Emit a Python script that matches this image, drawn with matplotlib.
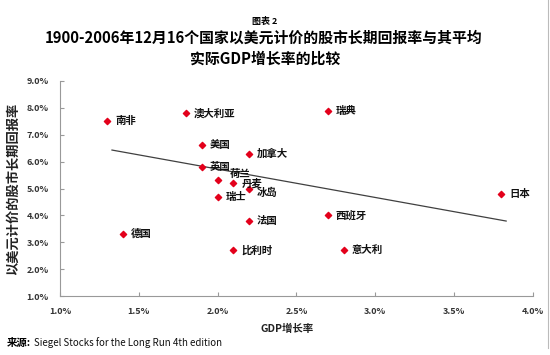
import matplotlib.pyplot as plt
import numpy as np
from matplotlib.ticker import FuncFormatter

plt.rcParams['font.family'] = ['Noto Sans CJK SC', 'DejaVu Sans']

# 16 countries: real GDP growth (%) vs long-run USD stock return (%)
countries = ["南非", "澳大利亚", "瑞典", "美国", "加拿大", "英国", "荷兰", "丹麦",
             "冰岛", "瑞士", "日本", "法国", "西班牙", "德国", "比利时", "意大利"]
gdp = [1.3, 1.8, 2.7, 1.9, 2.2, 1.9, 2.0, 2.1, 2.2, 2.0, 3.8, 2.2, 2.7, 1.4, 2.1, 2.8]
ret = [7.5, 7.8, 7.9, 6.6, 6.3, 5.8, 5.3, 5.2, 5.0, 4.7, 4.8, 3.8, 4.0, 3.3, 2.7, 2.7]

# trend line as drawn in the source
trend_x = [1.33, 3.83]
trend_y = [6.43, 3.79]

# label offsets in pixels (default right of the marker)
offsets = {"荷兰": (12, 7), "冰岛": (8, -4)}

fig = plt.figure(figsize=(5.5, 3.55), dpi=100)
ax = fig.add_axes([0.109, 0.166, 0.86, 0.606])

ax.scatter(gdp, ret, marker="D", s=10, color="#e3001b", zorder=3)
ax.plot(trend_x, trend_y, color="#404040", lw=0.9, zorder=2)

for name, x, y in zip(countries, gdp, ret):
    dx, dy = offsets.get(name, (8, 0))
    ax.annotate(name, (x, y), xytext=(dx, dy), textcoords="offset pixels",
                ha="left", va="center", fontsize=7.5, fontweight="bold", color="#111111")

ax.set_xlim(1.0, 4.0)
ax.set_ylim(1.0, 9.0)
ax.set_xticks(np.arange(1.0, 4.01, 0.5))
ax.set_yticks(np.arange(1.0, 9.01, 1.0))
ax.xaxis.set_major_formatter(FuncFormatter(lambda v, p: f"{v:.1f}%"))
ax.yaxis.set_major_formatter(FuncFormatter(lambda v, p: f"{v:.1f}%"))
ax.tick_params(axis="both", direction="in", length=3, color="#999999",
               labelsize=6.5, labelcolor="#333333", pad=8)
for lbl in ax.get_xticklabels() + ax.get_yticklabels():
    lbl.set_fontweight("bold")
for s in ["top", "right"]:
    ax.spines[s].set_visible(False)
for s in ["left", "bottom"]:
    ax.spines[s].set_color("#999999")
    ax.spines[s].set_linewidth(0.8)

ax.set_xlabel("GDP增长率", fontsize=7.5, fontweight="bold", color="#222222", labelpad=2)
ax.xaxis.set_label_coords(0.48, -0.13)
ax.set_ylabel("以美元计价的股市长期回报率", fontsize=9.5, fontweight="bold", color="#222222", labelpad=5)

fig.text(0.482, 0.941, "图表 2", ha="center", va="center", fontsize=6.5, fontweight="bold")
fig.text(0.48, 0.893, "1900-2006年12月16个国家以美元计价的股市长期回报率与其平均",
         ha="center", va="center", fontsize=10.7, fontweight="bold")
fig.text(0.482, 0.834, "实际GDP增长率的比较", ha="center", va="center", fontsize=10.7, fontweight="bold")

fig.text(0.012, 0.035, "来源:", ha="left", va="center", fontsize=7.5, fontweight="bold")
fig.text(0.062, 0.035, "Siegel Stocks for the Long Run 4th edition", ha="left", va="center",
         fontsize=7, color="#111111")

# light frame line on the right edge
fig.add_artist(plt.Line2D([0.997, 0.997], [0.02, 1.0], color="#bbbbbb", lw=0.8,
                          transform=fig.transFigure))

fig.savefig("out.png", dpi=100)
